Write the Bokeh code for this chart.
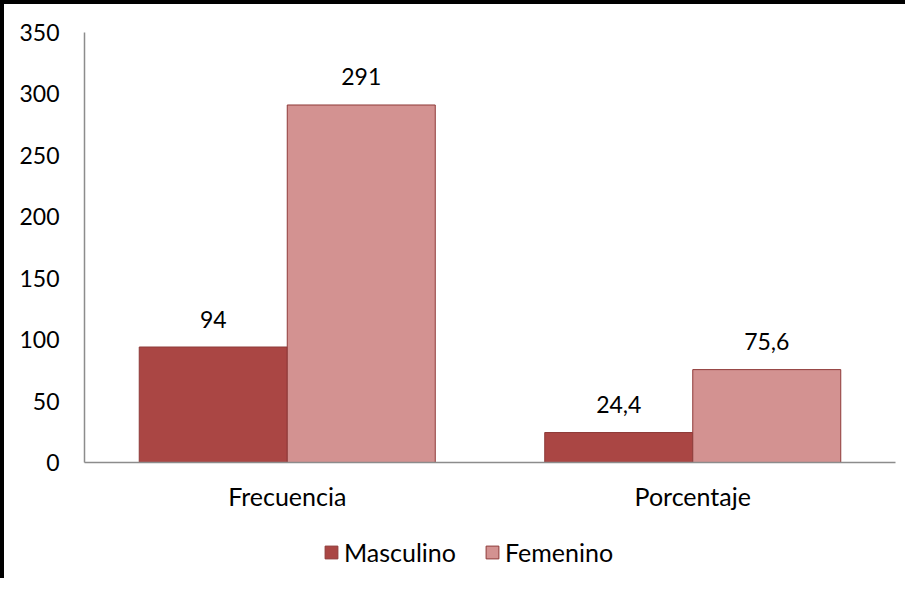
from bokeh.plotting import figure
from bokeh.models import ColumnDataSource, FactorRange, Legend, LegendItem, Range1d, FixedTicker
from bokeh.layouts import column
from bokeh.transform import dodge
from bokeh.core.properties import value
from bokeh.embed import file_html
from bokeh.resources import INLINE

categories = ["Frecuencia", "Porcentaje"]
series_names = ["Masculino", "Femenino"]
masculino = [94, 24.4]
femenino = [291, 75.6]
masc_labels = ["94", "24,4"]
fem_labels = ["291", "75,6"]
y_ticks = [0, 50, 100, 150, 200, 250, 300, 350]

FONT = "Lato"
DARK = "#AA4644"
LIGHT = "#D39291"
EDGE = "#8E3A38"

src = ColumnDataSource(dict(cat=categories, m=masculino, f=femenino, ml=masc_labels, fl=fem_labels))

p = figure(x_range=FactorRange(*categories, range_padding=0), y_range=Range1d(0, 350),
           width=905, height=520, output_backend="svg", toolbar_location=None,
           min_border_left=80, min_border_top=28, min_border_right=14, min_border_bottom=62)
p.styles = {"border-left": "4px solid black", "border-top": "4px solid black"}
p.outline_line_color = None
p.xgrid.grid_line_color = None
p.ygrid.grid_line_color = None

bw = 0.365
p.vbar(x=dodge("cat", -bw / 2, range=p.x_range), top="m", width=bw, source=src,
       fill_color=DARK, line_color=EDGE, line_width=1)
p.vbar(x=dodge("cat", bw / 2, range=p.x_range), top="f", width=bw, source=src,
       fill_color=LIGHT, line_color=EDGE, line_width=1)

p.text(x=dodge("cat", -bw / 2, range=p.x_range), y="m", text="ml", source=src,
       text_align="center", text_baseline="alphabetic", y_offset=-28,
       text_font=value(FONT), text_font_size="23px", text_color="#000000")
p.text(x=dodge("cat", bw / 2, range=p.x_range), y="f", text="fl", source=src,
       text_align="center", text_baseline="alphabetic", y_offset=-28,
       text_font=value(FONT), text_font_size="23px", text_color="#000000")

for ax in (p.xaxis[0], p.yaxis[0]):
    ax.axis_line_color = "#8C8C8C"
    ax.axis_line_width = 1.5
    ax.major_tick_line_color = None
    ax.minor_tick_line_color = None
    ax.major_label_text_font = FONT
    ax.major_label_text_color = "#000000"

p.yaxis.major_label_text_font_size = "23px"
p.xaxis.major_label_text_font_size = "25px"
p.yaxis.ticker = FixedTicker(ticks=y_ticks)
p.yaxis.major_label_standoff = 19
p.xaxis.major_label_standoff = 12

# legend strip below the chart; its renderers hold no drawable point (NaN)
nan = float("nan")
p2 = figure(x_range=Range1d(0, 1), y_range=Range1d(0, 1),
            width=905, height=58, output_backend="svg", toolbar_location=None,
            min_border=0)
p2.styles = {"border-left": "4px solid black"}
p2.outline_line_color = None
p2.axis.visible = False
p2.grid.visible = False
lm = p2.vbar(x=[nan], top=[nan], width=0.1, fill_color=DARK, line_color=EDGE, line_width=1)
lf = p2.vbar(x=[nan], top=[nan], width=0.1, fill_color=LIGHT, line_color=EDGE, line_width=1)
legend = Legend(items=[LegendItem(label=series_names[0], renderers=[lm]),
                       LegendItem(label=series_names[1], renderers=[lf])],
                orientation="horizontal", location=(239, 11),
                label_text_font=FONT, label_text_font_size="25px", label_text_color="#000000",
                glyph_width=16, glyph_height=16, spacing=28, label_standoff=5,
                border_line_color=None, background_fill_alpha=0, margin=0, padding=0)
p2.add_layout(legend, "center")

layout = column(p, p2, spacing=0)
open("out.html", "w").write(file_html(layout, INLINE))
